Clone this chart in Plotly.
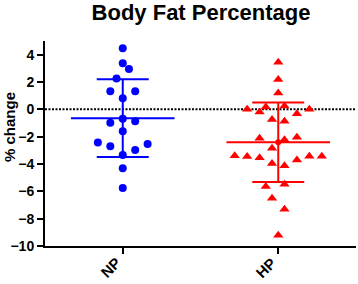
import numpy as np
import plotly.graph_objects as go

categories = ["NP", "HP"]

np_values = [4.47, 3.37, 2.95, 2.26, 1.33, 1.33, 0.81, -0.98, -0.69, -0.88,
             -1.60, -2.43, -2.70, -2.97, -2.53, -3.34, -4.32, -5.75]
np_slots = [0, 0, 0.5, -0.5, -1, 1, 0, -1, 0, 1,
            0, -2, -1, 1, 2, 0, 0, 0]

hp_values = [3.44, 2.19, 1.20, 0.17, 0.24, 0.00, -0.20, -0.32, 0.00, -0.74,
             -0.88, -2.11, -2.23, -2.04, -2.85, -3.39, -3.46, -3.54, -3.71, -3.44,
             -3.44, -3.96, -4.13, -5.65, -5.48, -6.51, -7.32, -9.21]
hp_slots = [0, 0, 0, -1, 0.5, -2.5, -1.5, 1.5, 2.5, -0.5,
            0.5, -1.5, 0.5, 1.5, -0.5, -3.5, -2.5, -1.5, 1.5, 2.5,
            3.5, -0.5, 0.5, -1, 0.5, -0.5, 0.5, 0]

y_ticks = [-10, -8, -6, -4, -2, 0, 2, 4]

SLOT = 0.08
MEAN_HALF = 0.333
FONT = "Liberation Sans, Arial, sans-serif"

W, H = 358, 284
ML, MR, MT, MB = 45, 2, 41, 38
PH = H - MT - MB
PW = W - ML - MR

groups = [
    (0, np_values, np_slots, "#0000FF", "circle", 8),
    (1, hp_values, hp_slots, "#FF0000", "triangle-up", 9),
]

fig = go.Figure()
for pos, vals, slots, color, symbol, size in groups:
    v = np.array(vals)
    m = v.mean()
    sd = v.std(ddof=1)
    fig.add_trace(go.Scatter(x=[pos - MEAN_HALF, pos + MEAN_HALF], y=[m, m],
                             mode="lines", line=dict(color=color, width=2),
                             showlegend=False, hoverinfo="skip"))
    fig.add_trace(go.Scatter(x=[pos], y=[m], mode="markers",
                             marker=dict(size=0, color=color),
                             error_y=dict(type="data", array=[sd], visible=True,
                                          width=26, thickness=2, color=color),
                             showlegend=False, hoverinfo="skip"))
    fig.add_trace(go.Scatter(x=[pos + s * SLOT for s in slots], y=vals,
                             mode="markers",
                             marker=dict(symbol=symbol, size=size, color=color,
                                         line=dict(width=0)),
                             showlegend=False))

fig.add_shape(type="line", xref="paper", x0=0, x1=1, yref="y", y0=0, y1=0,
              line=dict(color="black", width=2, dash="2px,1.5px"), layer="below")

annotations = [dict(text="<b>% change</b>", textangle=-90, xref="paper", yref="paper",
                    x=(9 - ML) / PW, y=(H - MB - 127) / PH, xanchor="center",
                    yanchor="middle", showarrow=False,
                    font=dict(size=15, family=FONT, color="black"))]
for i, cat in enumerate(categories):
    annotations.append(dict(text="<b>%s</b>" % cat, textangle=-45, xref="x", yref="paper",
                            x=i + 4 / 155, y=-5 / PH, xanchor="right", yanchor="top",
                            showarrow=False,
                            font=dict(size=15, family=FONT, color="black")))

fig.update_layout(
    width=W, height=H,
    margin=dict(l=ML, r=MR, t=MT, b=MB),
    paper_bgcolor="white", plot_bgcolor="white",
    font=dict(family=FONT, color="black"),
    title=dict(text="<b>Body Fat Percentage</b>", x=(201 - ML) / PW, xref="paper",
               y=1 - 12 / H, yref="container", yanchor="middle", xanchor="center",
               font=dict(size=22, family=FONT, color="black")),
    xaxis=dict(range=[-0.5, 1.5], tickvals=[0, 1], ticktext=categories,
               showticklabels=False, automargin=False,
               showline=True, linecolor="black", linewidth=2,
               ticks="outside", ticklen=6, tickwidth=2, tickcolor="black",
               showgrid=False, zeroline=False),
    yaxis=dict(range=[-10, 5], tickvals=y_ticks, showline=True, linecolor="black",
               linewidth=2, ticks="outside", ticklen=6, tickwidth=2, automargin=False,
               tickcolor="black", showgrid=False, zeroline=False,
               tickfont=dict(size=14, family=FONT, weight="bold")),
    annotations=annotations,
)

fig.write_html("out.html", config={"displayModeBar": False},
               post_script="document.body.style.margin='0px';")
